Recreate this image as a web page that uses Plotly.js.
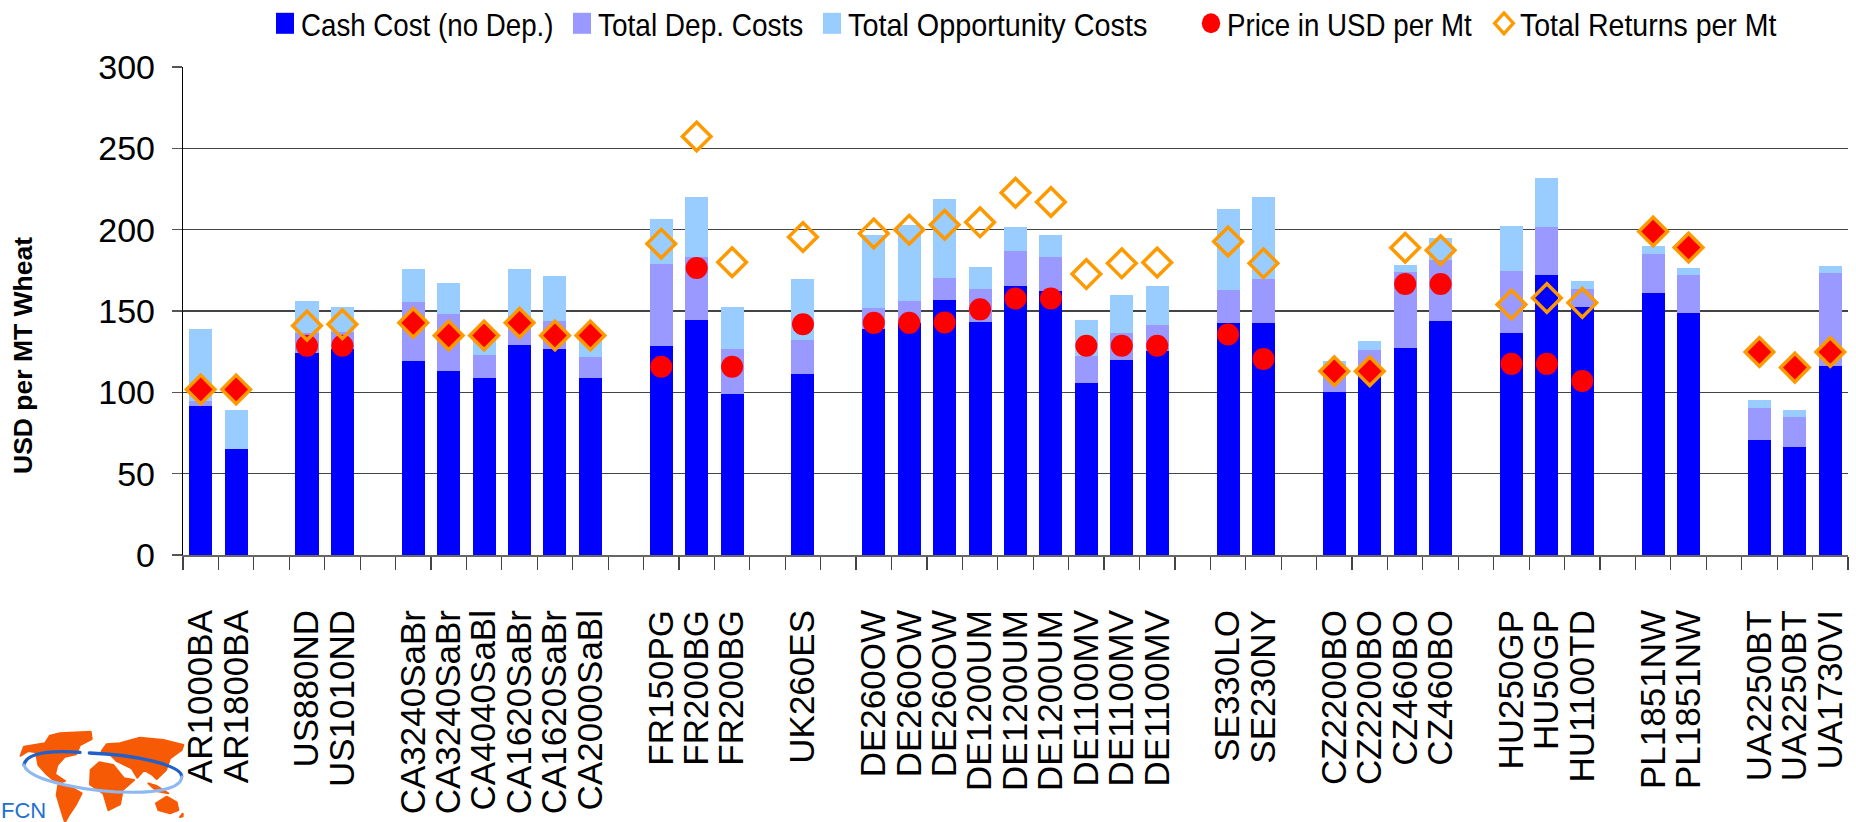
<!DOCTYPE html>
<html><head><meta charset="utf-8">
<script src="https://cdn.plot.ly/plotly-3.0.1.min.js"></script>
<style>html,body{margin:0;padding:0;background:#fff}#chart{width:1856px;height:822px}</style>
</head><body><div id="chart"></div>
<script>
var labels = ['AR1000BA','AR1800BA','','US880ND','US1010ND','','CA3240SaBr','CA3240SaBr','CA4040SaBl','CA1620SaBr','CA1620SaBr','CA2000SaBl','','FR150PG','FR200BG','FR200BG','','UK260ES','','DE260OW','DE260OW','DE260OW','DE1200UM','DE1200UM','DE1200UM','DE1100MV','DE1100MV','DE1100MV','','SE330LO','SE230NY','','CZ2200BO','CZ2200BO','CZ460BO','CZ460BO','','HU250GP','HU50GP','HU1100TD','','PL1851NW','PL1851NW','','UA2250BT','UA2250BT','UA1730VI'];
var cashCost = [91.6,65,null,124,126.6,null,119,113,109,129,126.6,109,null,128.6,144.5,99,null,111.4,null,139,142.7,156.8,143,165.5,162,106,120,125.5,null,142.7,142.7,null,100,112.7,127,143.9,null,136.6,172,152.5,null,161,148.9,null,70.7,66.6,116.4];
var depCost = [3.2,0,null,12.6,10.4,null,36.7,35,14,18,17.4,13,null,50.4,38.5,27.6,null,20.9,null,13,13.3,13.2,20.6,21.3,21,16.5,16.6,15.9,null,20.3,27.1,null,13,13.3,47,37.5,null,37.9,29.6,11.1,null,24,23.4,null,19.8,18.4,57];
var oppCost = [44.2,24.3,null,19.4,15.5,null,20.3,19,12,29,27.6,13,null,27.6,37,25.9,null,37.5,null,45,47,49,13.4,14.8,14,22,23.4,24.1,null,49.7,50.2,null,6.3,5.6,4.4,13.6,null,27.5,30.4,4.8,null,5,4.1,null,5,4.3,4.3];
var price = [101.8,101.8,null,128.6,128.6,null,142.7,135,135,142.7,135,135,null,115.7,176.4,115.7,null,141.8,null,142.7,142.7,143,151,157.7,157.7,128.6,128.6,128.6,null,135.5,120.5,null,113,113,166.6,166.6,null,117.5,117.5,107,null,198.9,189,null,124.8,115.2,124.8];
var totalReturns = [101.8,101.8,null,141,141.8,null,142.7,135,135,142.7,135,135,null,191.4,257.3,180,null,195.5,null,197.7,200,203,204.5,222.7,217,172.7,179.3,179.8,null,192.7,179.3,null,113,113,188.9,187.3,null,154,158,155,null,198.9,189,null,124.8,115.2,124.8];
var yTicks = [0,50,100,150,200,250,300];
var seriesNames = ['Cash Cost (no Dep.)','Total Dep. Costs','Total Opportunity Costs','Price in USD per Mt','Total Returns per Mt'];
var barColors = ['#0000FF','#9999FF','#99CCFF'];
var priceColor = '#FF0000', returnColor = '#FF9900';

var xs = labels.map(function(_, i){ return i; });
var same = xs.map(function(i){ return price[i] !== null && price[i] === totalReturns[i]; });
var W = 1856, H = 822, M = {l:183, r:8, t:67, b:267, autoexpand:false};
var pw = W - M.l - M.r, ph = H - M.t - M.b;
var labelFont = 'Liberation Sans, Arial, sans-serif';

function legendCfg(left){
  return {orientation:'v', x:(left-M.l)/pw, y:(H-M.b+4)/ph, xanchor:'left', yanchor:'top',
    font:{family:labelFont, size:32, color:'#000'}, bgcolor:'rgba(0,0,0,0)', borderwidth:0, itemclick:false, itemdoubleclick:false};
}
function bar(name, y, c, lg){ return {type:'bar', name:name, x:xs, y:y, width:0.65, marker:{color:c, line:{width:0}}, legend:lg, showlegend:true, hoverinfo:'y+name'}; }
var traces = [
  bar(seriesNames[0], cashCost, barColors[0], 'legend'),
  bar(seriesNames[1], depCost, barColors[1], 'legend2'),
  bar(seriesNames[2], oppCost, barColors[2], 'legend3'),
  {type:'scatter', mode:'markers', name:seriesNames[3], legend:'legend4', showlegend:true, x:xs,
   y:price.map(function(v,i){ return same[i] ? null : v; }),
   marker:{symbol:'circle', size:22, color:priceColor, line:{width:0}}},
  {type:'scatter', mode:'markers', name:seriesNames[3]+' (=returns)', showlegend:false, x:xs,
   y:price.map(function(v,i){ return same[i] ? v : null; }),
   marker:{symbol:'diamond', size:20, color:priceColor, line:{width:0}}},
  {type:'scatter', mode:'markers', name:seriesNames[4], legend:'legend5', showlegend:true, x:xs, y:totalReturns,
   marker:{symbol:'diamond-open', size:22, color:returnColor, line:{width:3.5, color:returnColor}}}
];

var logo = "<svg xmlns='http://www.w3.org/2000/svg' width='570' height='321' viewBox='0 0 570 321'>" +
 "<g fill='#F75A05' stroke='#F75A05' stroke-width='6' stroke-linejoin='round'>" +
 "<path d='M62,122 L72,95 L135,85 L150,62 L180,55 L272,50 L275,72 L240,90 L228,118 L195,125 L172,150 L165,178 L195,198 L172,205 L140,178 L115,150 L108,112 L85,108Z'/>" +
 "<path d='M175,210 L205,212 L245,235 L228,268 L208,298 L195,321 L188,300 L170,240Z'/>" +
 "<path d='M305,108 L320,88 L360,85 L420,68 L490,75 L550,90 L545,105 L510,130 L498,165 L470,192 L455,178 L432,165 L412,188 L395,160 L350,138 L330,118Z'/>" +
 "<path d='M272,165 L298,142 L340,150 L372,190 L402,195 L368,225 L360,268 L325,285 L310,235 L270,208Z'/>" +
 "<path d='M468,265 L500,245 L530,262 L535,285 L510,295 L475,285Z'/>" +
 "<path d='M445,205 L470,213 L505,235 L470,228Z'/>" +
 "<path d='M548,296 L540,306 L548,304Z'/>" +
 "</g><g fill='none' stroke-linecap='round'>" +
 "<path d='M72,150 C80,105 180,108 240,112' stroke='#2060C8' stroke-width='10'/>" +
 "<path d='M268,114 C400,118 545,150 545,185' stroke='#2060C8' stroke-width='10'/>" +
 "<path d='M72,150 C85,200 280,232 400,232 C490,232 545,215 545,185' stroke='#8DB8F2' stroke-width='9'/>" +
 "</g></svg>";

var layout = {
  width:W, height:H, margin:M, paper_bgcolor:'#fff', plot_bgcolor:'#fff',
  barmode:'stack', showlegend:true,
  font:{family:labelFont, color:'#000'},
  xaxis:{type:'linear', range:[-0.5, labels.length-0.5], tickmode:'array', tickvals:xs, ticktext:labels,
    ticks:'', tickangle:-90, ticklabelstandoff:39, tickfont:{family:labelFont, size:35, color:'#000'},
    showgrid:false, zeroline:false, showline:true, linecolor:'#666', linewidth:2, automargin:false,
    minor:{tickmode:'array', tickvals:labels.concat(['']).map(function(_,i){return i-0.5;}), ticks:'outside', ticklen:13, tickwidth:1.2, tickcolor:'#444', showgrid:false}},
  yaxis:{range:[0,300], tickmode:'array', tickvals:yTicks, ticks:'outside', ticklen:10, tickwidth:1.2, tickcolor:'#555',
    ticklabelstandoff:10, tickfont:{family:labelFont, size:34, color:'#000'},
    showgrid:true, gridcolor:'#444', gridwidth:1.5, zeroline:false, showline:true, linecolor:'#000', linewidth:1.2, automargin:false},
  legend:legendCfg(261), legend2:legendCfg(558), legend3:legendCfg(808), legend4:legendCfg(1187), legend5:legendCfg(1480),
  annotations:[
    {text:'USD per MT Wheat', xref:'paper', yref:'paper', x:(23-M.l)/pw, y:(H-M.b-356)/ph, xanchor:'center', yanchor:'middle', textangle:-90, showarrow:false,
     font:{family:labelFont, size:26.5, color:'#000', weight:'bold'}},
    {text:'FCN', xref:'paper', yref:'paper', x:(0-M.l)/pw, y:(H-M.b-810)/ph, xanchor:'left', yanchor:'middle', showarrow:false, borderpad:0,
     font:{family:labelFont, size:22, color:'#1F6FD0'}}
  ],
  images:[{source:'data:image/svg+xml;charset=utf-8,'+encodeURIComponent(logo), xref:'paper', yref:'paper',
    x:(0-M.l)/pw, y:(H-M.b-715)/ph, sizex:190/pw, sizey:107/ph, sizing:'stretch', xanchor:'left', yanchor:'top', layer:'below'}]
};

var legendTextScale = {legendtext:0.866, legend2text:0.875, legend3text:0.9, legend4text:0.866, legend5text:0.89};
function tweakLegend(gd){
  gd.querySelectorAll('.legendpoints path').forEach(function(p){
    if (!p.classList.contains('scatterpts')) {
      p.setAttribute('transform', 'translate(24,0) scale(1.5,1.75)');
    } else {
      var isDiamond = !!p.closest('.legend5');
      p.setAttribute('transform', isDiamond ? 'translate(24,0) scale(0.9,1)' : 'translate(24,0) scale(1.15,1.25)');
    }
  });
  Object.keys(legendTextScale).forEach(function(cls){
    gd.querySelectorAll('text.'+cls).forEach(function(t){
      var x = parseFloat(t.getAttribute('x')) || 40;
      t.setAttribute('transform','translate('+x+',0) scale('+legendTextScale[cls]+',1) translate('+(-x)+',0)');
    });
  });
}
Plotly.newPlot('chart', traces, layout, {displayModeBar:false, staticPlot:true}).then(function(gd){
  tweakLegend(gd);
  gd.on('plotly_afterplot', function(){ tweakLegend(gd); });
  setTimeout(function(){ tweakLegend(gd); }, 50);
});
</script></body></html>
